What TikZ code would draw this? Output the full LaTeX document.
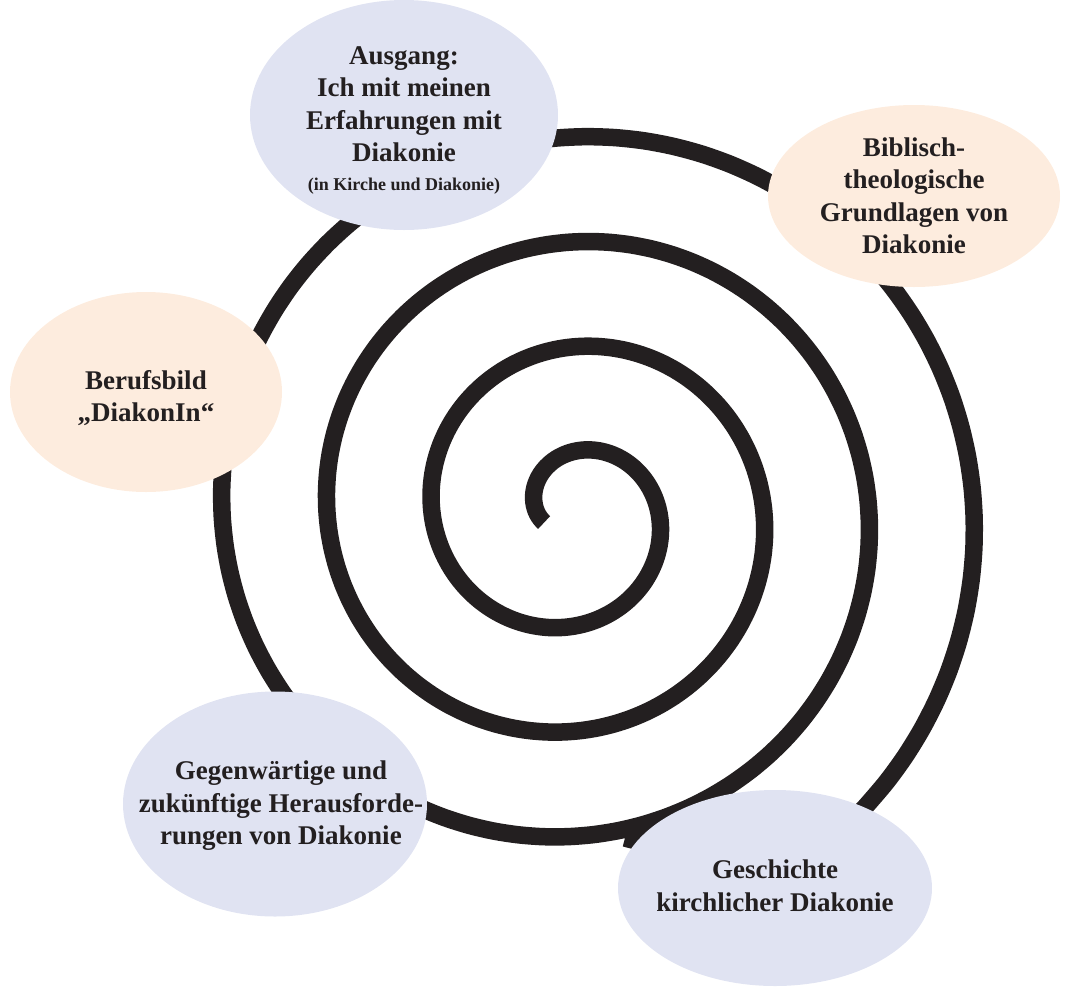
\documentclass[tikz,border=0pt]{standalone}
\usepackage{fontspec}
\setmainfont{Liberation Serif}
\usetikzlibrary{shapes.geometric}
\definecolor{lav}{HTML}{E0E3F2}
\definecolor{peach}{HTML}{FDECDE}
\definecolor{ink}{HTML}{231F20}
\begin{document}
\begin{tikzpicture}[x=1pt,y=-1pt,
    bubble/.style={ellipse,draw=none,inner sep=0pt},
    txt/.style={align=center,text=ink,font=\bfseries\fontsize{27}{32.5}\selectfont},
    spiral/.style={draw=ink,line width=17.5pt}]
  \useasboundingbox (0,0) rectangle (1069,986);
  \draw[spiral] plot[domain=-19:1305,samples=300,smooth]
    ({571.75-(34.75+0.29164*\x)*cos(\x)},{513-(34.75+0.29164*\x)*sin(\x)})
    .. controls (830,848) and (705,860) .. (625,838);
  \node[bubble,fill=lav,minimum width=308pt,minimum height=230pt] (ausgang) at (404,115) {};
  \node[bubble,fill=peach,minimum width=292pt,minimum height=182pt] (bibel) at (914,196) {};
  \node[bubble,fill=peach,minimum width=272pt,minimum height=200pt] (beruf) at (146,392) {};
  \node[bubble,fill=lav,minimum width=304pt,minimum height=225pt] (zukunft) at (275,804) {};
  \node[bubble,fill=lav,minimum width=314pt,minimum height=196pt] (geschichte) at (775,888) {};
  \node[txt] (ausgang-t) at ([yshift=-5pt]ausgang) {Ausgang:\\Ich mit meinen\\Erfahrungen mit\\Diakonie\\[-4pt]
    {\fontsize{18}{22}\selectfont (in Kirche und Diakonie)}};
  \node[txt] (bibel-t) at (bibel) {Biblisch-\\theologische\\Grundlagen von\\Diakonie};
  \node[txt] (beruf-t) at ([yshift=-6pt]beruf) {Berufsbild\\„DiakonIn“};
  \node[txt] (zukunft-t) at ([xshift=6pt,yshift=-2pt]zukunft) {Gegenwärtige und\\zukünftige Herausforde-\\rungen von Diakonie};
  \node[txt] (geschichte-t) at ([yshift=2pt]geschichte) {Geschichte\\kirchlicher Diakonie};
\end{tikzpicture}
\end{document}
